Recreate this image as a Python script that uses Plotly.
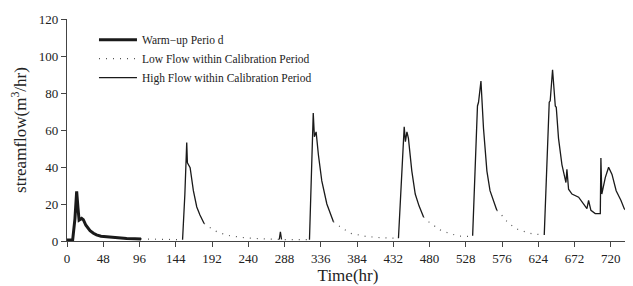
import plotly.graph_objects as go

# Warm-up period
warm_t = [0, 7.5, 10.5, 12.8, 14.5, 16, 19.4, 21.6, 25, 30.5, 35, 39, 45, 57, 68, 79, 90, 98]
warm_q = [0.5, 0.6, 12, 26.8, 18, 11.3, 12.2, 11.5, 8.5, 5.6, 4.2, 3.3, 2.6, 2.1, 1.7, 1.4, 1.2, 1.1]

# Low flow within calibration period (None separates segments)
low_t = [98, 120, 140, 153, None,
         181.5, 187, 200, 216, 238, 260, 282, 305, 321, None,
         352.7, 361.6, 374.8, 397, 415, 427, 438.8, None,
         472, 478.6, 494, 507, 521, 537, None,
         569, 574.4, 584.5, 597.8, 615.5, 631.8]
low_q = [1.1, 0.8, 0.7, 0.7, None,
         9.5, 7.8, 4.6, 2.8, 1.6, 1.0, 0.8, 0.7, 0.7, None,
         10.4, 7.7, 4.2, 2.4, 1.8, 1.5, 1.5, None,
         13, 10.4, 6, 3.9, 2.6, 2.5, None,
         16.6, 14.5, 9.5, 6, 3.9, 3.3]

# High flow within calibration period
high_t = [153, 156, 158.5, 159.4, 163, 167.3, 171.8, 176, 181.5, None,
          281, 282.5, 284, None,
          321, 324, 326, 327.5, 329.8, 332.8, 337.3, 344, 352.7, None,
          438.8, 443, 446.4, 448, 450, 452, 456.5, 461, 466, 472, None,
          537, 543.4, 544.8, 548, 551.4, 555.9, 560, 569, None,
          631.8, 638.4, 639.7, 642.8, 646.4, 647.7, 650.7, 655.2, 660.5, 661.8, 664,
          668.5, 677.3, 683.9, 688.3, 690.5, 693.6, 699.3, 706, 706.8, 708, 712.6,
          717, 721.5, 727, 733.4, 737.7, 742, 744]
high_q = [0.7, 25, 53.3, 42.2, 39.6, 27.2, 18.4, 14, 9.5, None,
          0.8, 4.9, 0.8, None,
          0.7, 35, 69.2, 56.4, 59, 46.6, 32.5, 20, 10.4, None,
          1.5, 32, 61.7, 53.7, 59, 55.5, 37.8, 25.4, 19, 13, None,
          2.8, 73, 75, 86.4, 60.8, 37.8, 27.2, 16.6, None,
          3.3, 75, 75.8, 92.6, 73, 72.3, 55.5, 41.3, 31.6, 38.7, 28,
          25.4, 23.7, 20.1, 17.5, 21.9, 16.6, 14.8, 14.8, 44.9, 25.4, 34.3,
          39.9, 36, 27.2, 21.9, 17.5, 15.7, 15]

x_ticks = list(range(0, 721, 48))
y_ticks = list(range(0, 121, 20))

FONT = "Liberation Serif, Times New Roman, serif"

fig = go.Figure()
fig.add_trace(go.Scatter(x=warm_t, y=warm_q, mode="lines", name="Warm\u2212up Perio d",
                         line=dict(color="#1a1a1a", width=3)))
fig.add_trace(go.Scatter(x=low_t, y=low_q, mode="lines", name="Low Flow within Calibration Period",
                         line=dict(color="#555555", width=1.2, dash="1px,6px"), connectgaps=False))
fig.add_trace(go.Scatter(x=high_t, y=high_q, mode="lines", name="High Flow within Calibration Period",
                         line=dict(color="#1a1a1a", width=1.3), connectgaps=False))

# page has an 8px body margin, so the figure is sized to fit the 633x286 window
fig.update_layout(
    width=625, height=278,
    margin=dict(l=59, r=4, t=7, b=45),
    paper_bgcolor="white", plot_bgcolor="white",
    font=dict(family=FONT, size=13, color="#222"),
    showlegend=True,
    legend=dict(x=0.048, y=0.972, xanchor="left", yanchor="top",
                bgcolor="rgba(0,0,0,0)", font=dict(family=FONT, size=11.5, color="#222"),
                itemwidth=38, tracegroupgap=0, traceorder="normal"),
    xaxis=dict(range=[0, 744], tickvals=x_ticks, ticks="outside", ticklen=5, tickwidth=1,
               tickcolor="#444", showline=True, linecolor="#444", linewidth=1.2,
               showgrid=False, zeroline=False, ticklabeloverflow="allow",
               title=dict(text="Time(hr)", font=dict(family=FONT, size=17), standoff=2),
               tickfont=dict(family=FONT, size=13)),
    yaxis=dict(range=[0, 120], tickvals=y_ticks, ticks="outside", ticklen=5, tickwidth=1,
               tickcolor="#444", showline=True, linecolor="#444", linewidth=1.2,
               showgrid=False, zeroline=False, ticklabeloverflow="allow",
               title=dict(text="streamflow(m<sup>3</sup>/hr)", font=dict(family=FONT, size=17), standoff=8),
               tickfont=dict(family=FONT, size=13)),
)

fig.write_html("out.html")
